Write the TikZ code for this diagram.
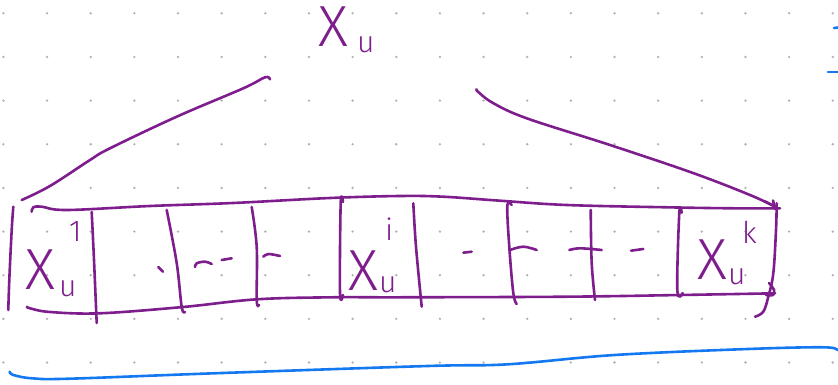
\documentclass[tikz,border=0pt]{standalone}
\usepackage{fontspec}
\newfontfamily\hand{Fira Sans Light}
\definecolor{ink}{RGB}{125,30,140}
\definecolor{blueink}{RGB}{20,120,240}
\definecolor{griddot}{RGB}{178,178,178}
% X with subscript u and a superscript:
% #1 superscript, #2 drop of u, #3 raise of superscript, #4 gap before u, #5 gap before superscript
\newcommand\xlab[5]{{\hand\fontsize{58}{58}\selectfont X\kern#4\rlap{\raisebox{#2}{\fontsize{30}{30}\selectfont u}}\kern#5\raisebox{#3}{\fontsize{30}{30}\selectfont #1}}}
\begin{document}
\begin{tikzpicture}[x=1pt,y=-1pt,
  pen/.style={draw=ink,line width=2.6pt,line cap=round,line join=round},
  bluepen/.style={draw=blueink,line width=2.6pt,line cap=round,line join=round},
  lab/.style={text=ink,inner sep=0pt,anchor=base west}]
\useasboundingbox (0,0) rectangle (838,385);
\clip (0,0) rectangle (838,385);
\fill[white] (0,0) rectangle (838,385);
% dotted paper
\foreach \i in {0,...,19}
  \foreach \j in {0,...,8}
    \fill[griddot] ({3.4+43.65*\i},{13.3+43.65*\j}) circle (1.3);
% margin ticks
\draw[bluepen] (834,28) -- (842,27);
\draw[bluepen] (828,72) -- (842,72);
% title
\node[lab] (title) at (318,47) {{\hand\fontsize{58}{58}\selectfont X\kern9pt\raisebox{-6pt}{\fontsize{30}{30}\selectfont u}}};
% left bracket stroke
\draw[pen] plot[smooth,tension=0.6] coordinates {(21.7,200) (50,186) (90,160) (110,148.3) (176.7,116.7) (243.3,88.3) (265,77.3) (270,79.3)};
% right stroke with arrow head
\draw[pen] plot[smooth,tension=0.6] coordinates {(476.7,89.3) (478,91.7) (493,103) (526.7,118.3) (610,145) (693,173) (750,195) (775,206.7)};
\draw[pen] (764,201) -- (777,207.5);
\draw[pen] (773,200.5) -- (775,209);
% outer frame
\draw[pen] plot[smooth,tension=0.6] coordinates {(13.3,206.7) (11.7,230) (9.3,280) (8.3,310)};
\draw[pen] plot[smooth,tension=0.6] coordinates {(31.7,211.7) (33.3,207.3) (41.7,206.7) (66.7,210) (150,206) (233,203) (330,198) (400,196) (443,196.7) (500,200.7) (566.7,205) (666.7,207.3) (733,208.3) (780,208.3)};
\draw[pen] plot[smooth,tension=0.6] coordinates {(27,306.7) (30,308.3) (50,312) (100,313.3) (183,307) (257,299.3) (333,297.3) (400,297.3) (566.7,296.7) (680,295) (775,293.3)};
\draw[pen] plot[smooth,tension=0.6] coordinates {(769,283) (774,290) (773,295) (766,295)};
\draw[pen] plot[smooth,tension=0.6] coordinates {(776.7,203.3) (776,230) (773.3,273.3) (768.3,296.7) (763.3,311.7) (755,316.7)};
% cell dividers
\draw[pen] plot[smooth,tension=0.6] coordinates {(91.7,212) (94,260) (96.7,323)};
\draw[pen] plot[smooth,tension=0.6] coordinates {(166.7,210) (176.7,263) (181.7,307) (185,312)};
\draw[pen] plot[smooth,tension=0.6] coordinates {(251.7,207) (256.7,247) (256.7,300) (259,305)};
\draw[pen] plot[smooth,tension=0.6] coordinates {(343,202) (340.7,203) (340,293) (343,295)};
\draw[pen] plot[smooth,tension=0.6] coordinates {(413.3,203.3) (416,246.7) (421.7,306.7)};
\draw[pen] plot[smooth,tension=0.6] coordinates {(511.7,205) (507.3,206) (509.3,247) (513.3,293) (516.7,304)};
\draw[pen] plot[smooth,tension=0.6] coordinates {(590.7,210) (591.7,263) (595,300)};
\draw[pen] plot[smooth,tension=0.6] coordinates {(681.7,212.7) (679.3,212.7) (677.3,290) (682.7,293)};
% dashes inside the cells
\draw[pen] (158.3,267) -- (163,271.7);
\draw[pen] plot[smooth,tension=0.6] coordinates {(195,267) (196.7,263.3) (205,261.7) (211.7,264)};
\draw[pen] (221.7,260) -- (231.7,258.3);
\draw[pen] plot[smooth,tension=0.6] coordinates {(263.3,256.7) (268.3,254) (280,256)};
\draw[pen] (463.3,252.7) -- (471.7,251.7);
\draw[pen] plot[smooth,tension=0.6] coordinates {(510,250) (523.3,246.7) (536.7,250)};
\draw[pen] plot[smooth,tension=0.6] coordinates {(569.3,250) (580,248.3) (601.7,250)};
\draw[pen] (631,250.7) -- (643.3,249);
% cell labels
\node[lab] (first) at (25,289) {\xlab{1}{-7pt}{48pt}{4pt}{10pt}};
\node[lab] (middle) at (348,290) {\xlab{i}{-2pt}{50pt}{1pt}{6pt}};
\node[lab] (last) at (697,279) {\xlab{k}{-5pt}{36pt}{1pt}{14pt}};
% underline
\draw[bluepen] plot[smooth,tension=0.6] coordinates {(9.6,371.7) (13.4,375) (32,378.3) (69.5,378.7) (213.8,373.3) (427.6,366) (507.8,364.3) (614.6,355) (748,349) (823,347.3) (838,350) (842,352)};
\end{tikzpicture}
\end{document}
